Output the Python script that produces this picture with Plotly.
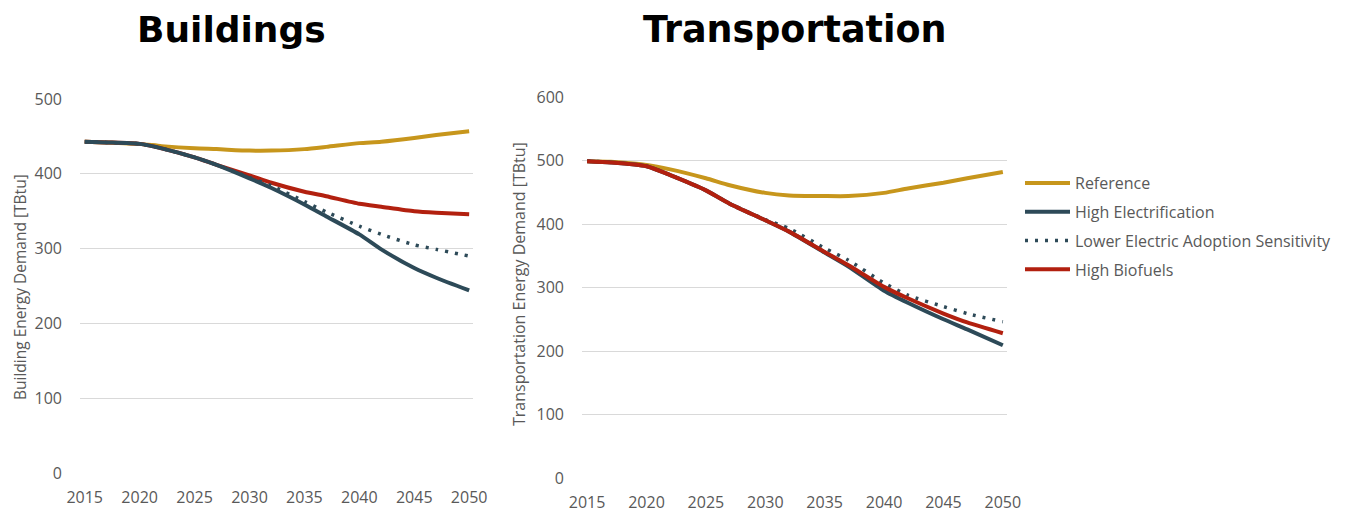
import plotly.graph_objects as go

# ---------------- data ----------------
years = [2015, 2017, 2020, 2022, 2025, 2027, 2030, 2032, 2035, 2037, 2040, 2042, 2045, 2047, 2050]

bld_reference = [443, 442, 440, 437, 434, 433, 431, 431, 433, 436, 441, 443, 448, 452, 457]
bld_high_elec = [443, 442, 440, 434, 422, 412, 394, 381, 359, 343, 319, 299, 274, 261, 244]
bld_lower_elec = [443, 442, 440, 434, 422, 412, 395, 384, 363, 349, 330, 319, 305, 299, 290]
bld_biofuels = [443, 442, 440, 434, 422, 412, 398, 388, 376, 370, 360, 356, 350, 348, 346]

trn_reference = [499, 498, 493, 486, 472, 461, 449, 445, 444, 444, 449, 456, 465, 472, 482]
trn_high_elec = [499, 497, 491, 477, 453, 432, 406, 388, 355, 333, 295, 276, 250, 234, 209]
trn_lower_elec = [499, 497, 491, 477, 453, 432, 407, 393, 362, 343, 307, 288, 270, 259, 246]
trn_biofuels = [499, 497, 491, 477, 453, 432, 406, 388, 356, 335, 301, 283, 259, 245, 228]

x_ticks = [2015, 2020, 2025, 2030, 2035, 2040, 2045, 2050]

# ---------------- styles ----------------
GOLD = '#C7961C'
BLUE = '#2D4A58'
RED = '#B2200F'
GREY_TXT = '#595959'
GRID = '#D9D9D9'
FONT = 'Open Sans'

# page body has an 8px margin, so the figure is a bit smaller and shifted
OFF = 8
W, H = 1356 - OFF, 512 - OFF


def px_x(p):
    return (p - OFF) / W


def px_y(p):
    return 1 - (p - OFF) / H


series = {
    'Reference': dict(color=GOLD, dash='solid', width=4, rank=1),
    'High Electrification': dict(color=BLUE, dash='solid', width=4, rank=2),
    'Lower Electric Adoption Sensitivity': dict(color=BLUE, dash='3px,7px', width=3.5, rank=3),
    'High Biofuels': dict(color=RED, dash='solid', width=4, rank=4),
}

fig = go.Figure()


def add_line(name, y, xaxis, yaxis, show):
    s = series[name]
    fig.add_trace(go.Scatter(
        x=years, y=y, name=name, mode='lines',
        line=dict(color=s['color'], width=s['width'], dash=s['dash'], shape='spline', smoothing=0.6),
        xaxis=xaxis, yaxis=yaxis, showlegend=show,
        legendgroup=name, legendrank=s['rank'],
    ))


# Buildings (left) - blue drawn on top
add_line('Reference', bld_reference, 'x', 'y', False)
add_line('High Biofuels', bld_biofuels, 'x', 'y', False)
add_line('Lower Electric Adoption Sensitivity', bld_lower_elec, 'x', 'y', False)
add_line('High Electrification', bld_high_elec, 'x', 'y', False)

# Transportation (right) - red drawn on top
add_line('Reference', trn_reference, 'x2', 'y2', True)
add_line('High Electrification', trn_high_elec, 'x2', 'y2', True)
add_line('Lower Electric Adoption Sensitivity', trn_lower_elec, 'x2', 'y2', True)
add_line('High Biofuels', trn_biofuels, 'x2', 'y2', True)

xcommon = dict(
    tickvals=x_ticks, showgrid=False, zeroline=False, showline=False, automargin=False,
    tickfont=dict(size=16, color=GREY_TXT, family=FONT), ticks='',
    ticklabelstandoff=13,
    range=[2014.57, 2050.35], fixedrange=True,
)
ycommon = dict(
    showgrid=True, gridcolor=GRID, gridwidth=1.3, zeroline=False, showline=False, automargin=False,
    tickfont=dict(size=16, color=GREY_TXT, family=FONT), ticks='',
    ticklabelstandoff=17, fixedrange=True,
)

fig.update_layout(
    width=W, height=H,
    autosize=False,
    paper_bgcolor='white', plot_bgcolor='white',
    margin=dict(l=0, r=0, t=0, b=0, autoexpand=False),
    font=dict(family=FONT, color=GREY_TXT),
    xaxis=dict(xcommon, domain=[px_x(80), px_x(473)], anchor='y'),
    yaxis=dict(ycommon, domain=[px_y(473), px_y(99)], range=[0, 500], dtick=100, anchor='x'),
    xaxis2=dict(xcommon, domain=[px_x(582), px_x(1007)], anchor='y2'),
    yaxis2=dict(ycommon, domain=[px_y(478), px_y(97)], range=[0, 600], dtick=100, anchor='x2'),
    legend=dict(
        x=px_x(1020), y=px_y(166), xanchor='left', yanchor='top',
        font=dict(size=16, color=GREY_TXT, family=FONT),
        bgcolor='rgba(0,0,0,0)', traceorder='grouped', tracegroupgap=5,
        itemwidth=45,
    ),
    showlegend=True,
)

# panel titles and axis titles
fig.add_annotation(text='<b>Buildings</b>', x=px_x(231), y=px_y(30), xref='paper', yref='paper',
                   xanchor='center', yanchor='middle', showarrow=False,
                   font=dict(size=36, color='black', family='DejaVu Sans'))
fig.add_annotation(text='<b>Transportation</b>', x=px_x(795), y=px_y(30), xref='paper', yref='paper',
                   xanchor='center', yanchor='middle', showarrow=False,
                   font=dict(size=36.5, color='black', family='DejaVu Sans'))
fig.add_annotation(text='Building Energy Demand [TBtu]', x=px_x(20), y=px_y(287), xref='paper', yref='paper',
                   xanchor='center', yanchor='middle', showarrow=False, textangle=-90,
                   font=dict(size=15.5, color=GREY_TXT, family=FONT))
fig.add_annotation(text='Transportation Energy Demand [TBtu]', x=px_x(519), y=px_y(284), xref='paper', yref='paper',
                   xanchor='center', yanchor='middle', showarrow=False, textangle=-90,
                   font=dict(size=16, color=GREY_TXT, family=FONT))

fig.write_html("out.html")
